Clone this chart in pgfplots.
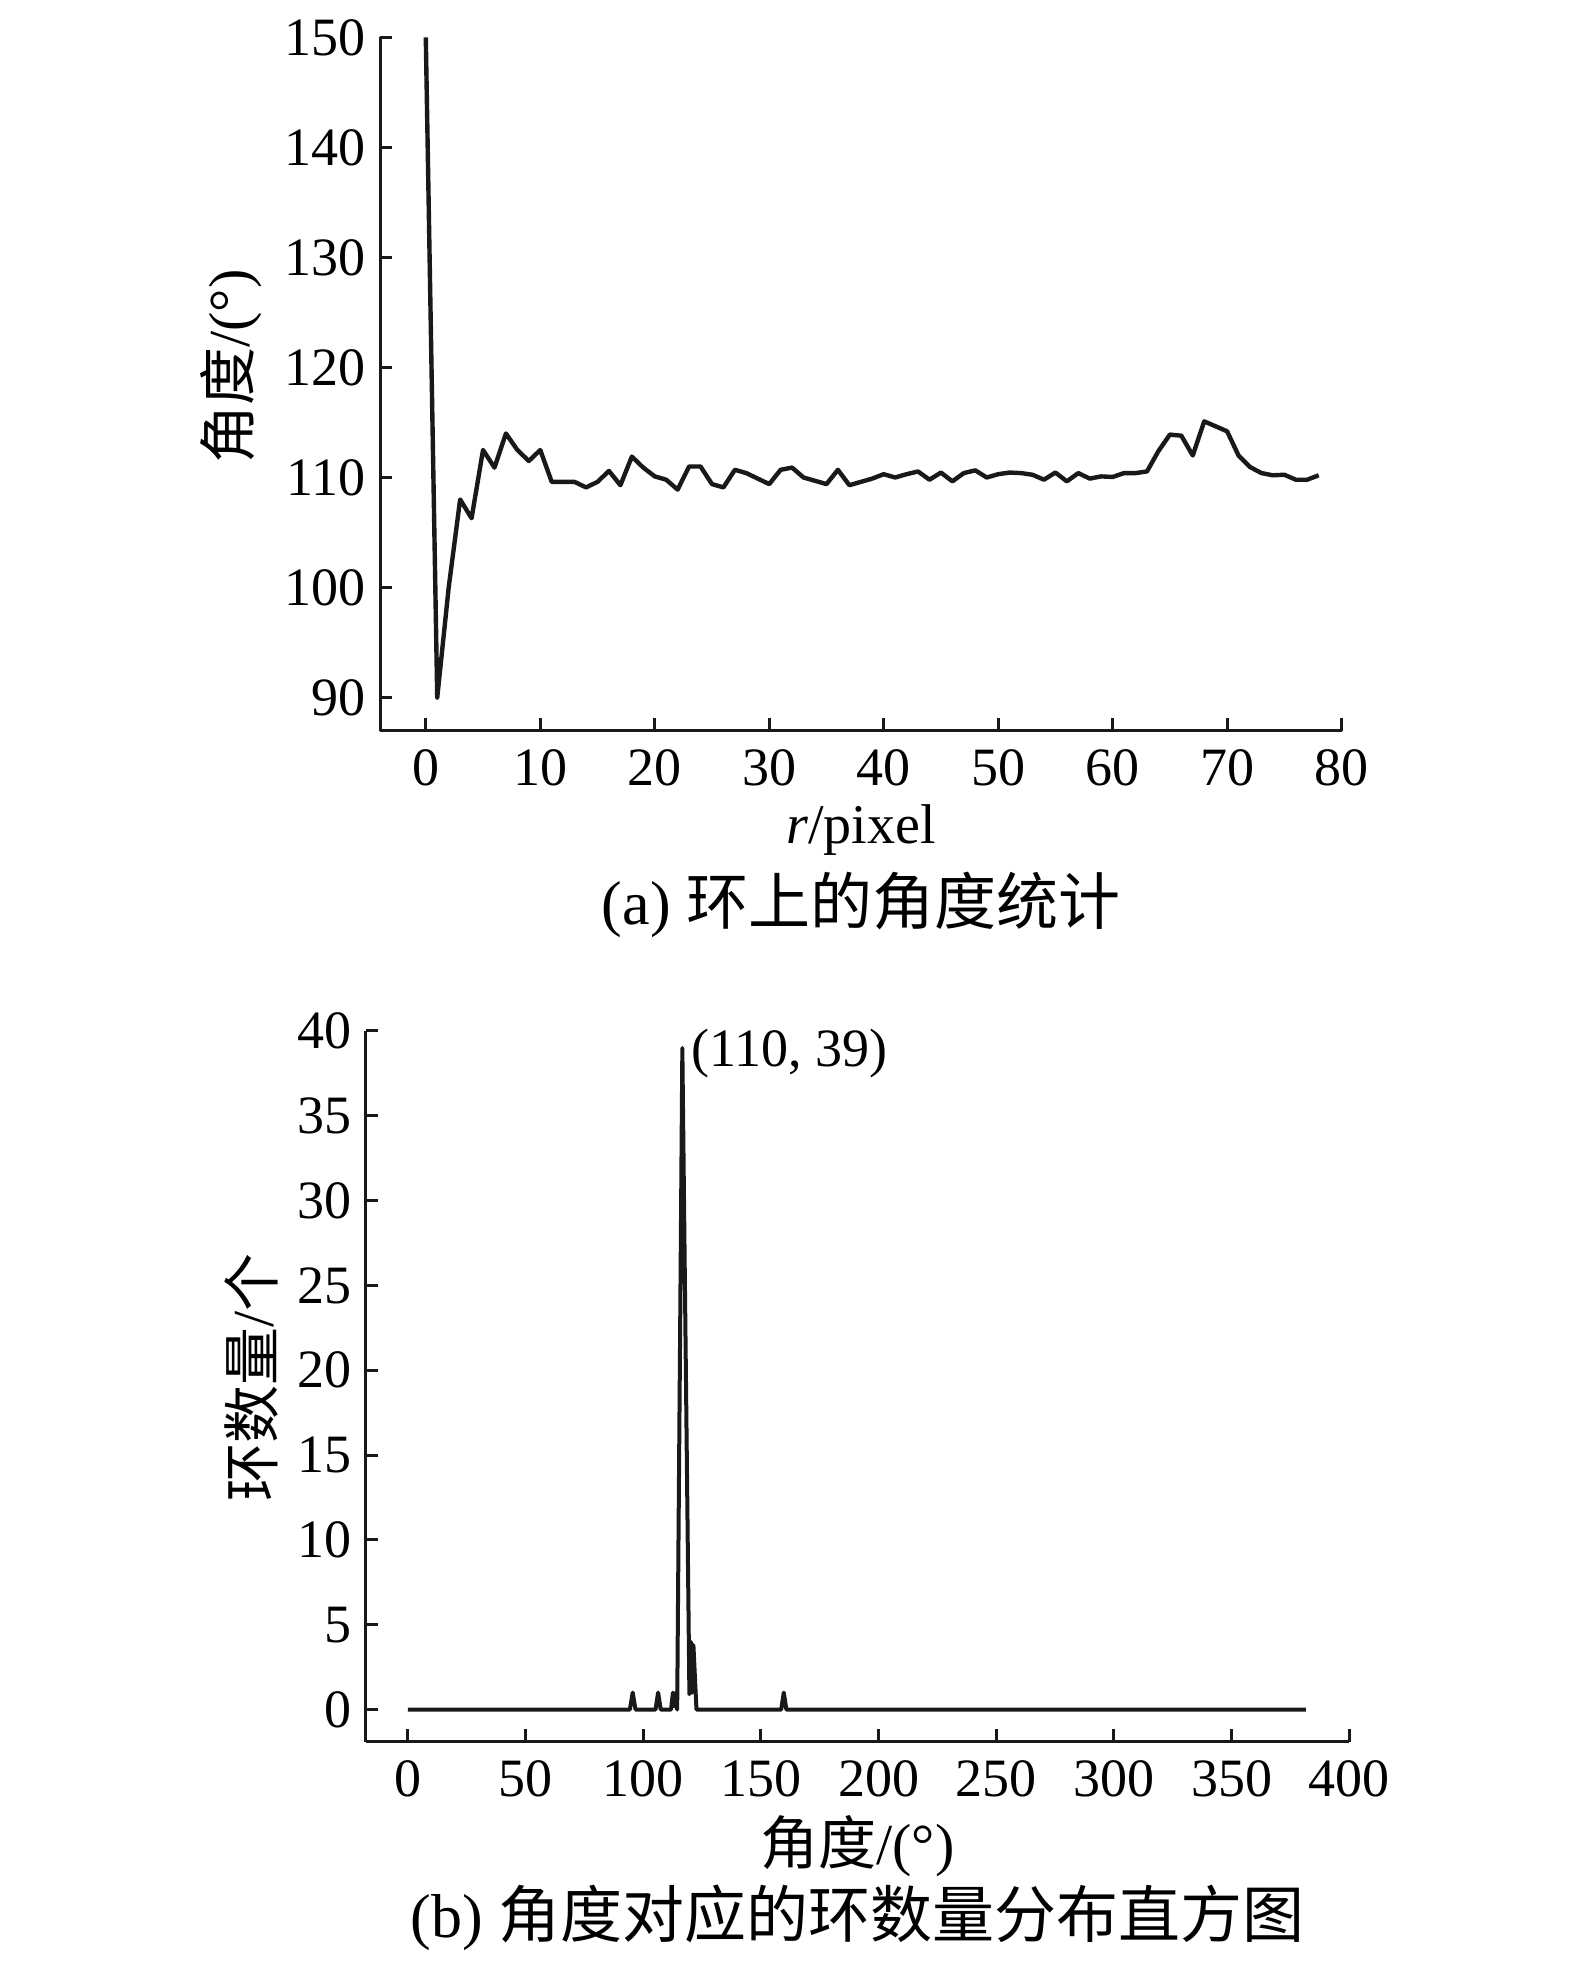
\documentclass[border=0pt]{standalone}
\usepackage{pgfplots}
\pgfplotsset{compat=1.18}
\usepackage{fontspec}
\setmainfont{Liberation Serif}
\newfontfamily\cjk{Noto Sans CJK SC}

\newcommand{\lblfont}{\fontsize{13.5}{16}\selectfont}
\newcommand{\axlfont}{\fontsize{14.5}{17}\selectfont}
\newcommand{\capfont}{\fontsize{15.5}{18}\selectfont}

\pgfplotsset{
  myaxis/.style={
    scale only axis,
    anchor=south west,
    axis x line*=bottom,
    axis y line*=left,
    axis line style={-, line width=0.75pt, black!90},
    tick align=inside,
    major tick length=3.1pt,
    tick style={line width=0.75pt, black!90},
    tick label style={font=\lblfont},
    label style={font=\axlfont},
    /pgf/number format/assume math mode=true,
    xticklabel style={yshift=-1.2pt},
    clip=false,
  },
}

\begin{document}
\begin{tikzpicture}[font=\lblfont]
\path[use as bounding box] (0,0) rectangle (393.75pt,491.25pt);

% (a) angle along the ring
\begin{axis}[myaxis,
  at={(95pt,308.6pt)},
  width=240.4pt, height=173.3pt,
  xmin=-4, xmax=80, ymin=87, ymax=150,
  xtick={0,10,...,80}, ytick={90,100,...,150},
  xlabel={\fontsize{14}{17}\selectfont\textit{r}/pixel},
  xlabel style={at={(axis description cs:0.5,0)}, anchor=center, yshift=-24.8pt},
  ylabel={{\cjk 角度}/(°)},
  ylabel style={at={(axis description cs:0,0.525)}, anchor=center, yshift=37.3pt},
]
\addplot[black!90, line width=1.1pt, line join=round] coordinates {
(0,150) (1,90) (2,100) (3,108.0) (4,106.3) (5,112.5) (6,110.9) (7,114.0)
(8,112.5) (9,111.5) (10,112.5) (11,109.6) (12,109.6) (13,109.6) (14,109.1)
(15,109.6) (16,110.6) (17,109.3) (18,111.9) (19,110.9) (20,110.1) (21,109.8)
(22,108.9) (23,111.0) (24,111.0) (25,109.4) (26,109.1) (27,110.7) (28,110.4)
(29,109.9) (30,109.4) (31,110.7) (32,110.9) (33,110.0) (34,109.7) (35,109.4)
(36,110.7) (37,109.3) (38,109.6) (39,109.9) (40,110.3) (41,110.0) (42,110.3)
(43,110.55) (44,109.8) (45,110.45) (46,109.65) (47,110.4) (48,110.65) (49,110.0)
(50,110.3) (51,110.45) (52,110.4) (53,110.25) (54,109.8) (55,110.45) (56,109.65)
(57,110.4) (58,109.9) (59,110.1) (60,110.05) (61,110.4) (62,110.4) (63,110.55)
(64,112.4) (65,113.9) (66,113.8) (67,112.0) (68,115.1) (69,114.65) (70,114.2)
(71,112.0) (72,110.95) (73,110.4) (74,110.2) (75,110.25) (76,109.8) (77,109.8)
(78,110.2)
};
\end{axis}

% (b) histogram of ring counts per angle
\begin{axis}[myaxis,
  at={(91.4pt,55.8pt)},
  width=245.9pt, height=177.7pt,
  xmin=-18, xmax=400, ymin=-1.9, ymax=40,
  xtick={0,50,...,400}, ytick={0,5,...,40},
  xlabel={{\cjk 角度}/(°)},
  xlabel style={at={(axis description cs:0.5,0)}, anchor=center, yshift=-26pt},
  ylabel={{\cjk 环数量}/{\cjk 个}},
  ylabel style={at={(axis description cs:0,0.512)}, anchor=center, yshift=28.6pt},
]
\addplot[black!90, line width=1pt, line join=round] coordinates {
(0,0) (94.3,0) (95.5,1) (96.7,0) (105.2,0) (106.3,1) (107.4,0)
(111.8,0) (112.6,1) (113.2,0.2) (113.8,1) (114.4,0) (116.6,39)
(119.6,0.9) (120.2,4) (120.8,1) (121.3,3.8) (122.6,0)
(158.6,0) (159.7,1) (160.8,0) (381.6,0)
};
\node[anchor=west, inner sep=0pt, xshift=2pt, yshift=-1.5pt] at (axis cs:116.6,39) {(110, 39)};
\end{axis}

\node[font=\capfont] at (215.25pt,265pt) {(a) {\cjk 环上的角度统计}};
\node[font=\capfont] at (214.4pt,11.75pt) {(b) {\cjk 角度对应的环数量分布直方图}};
\end{tikzpicture}
\end{document}
